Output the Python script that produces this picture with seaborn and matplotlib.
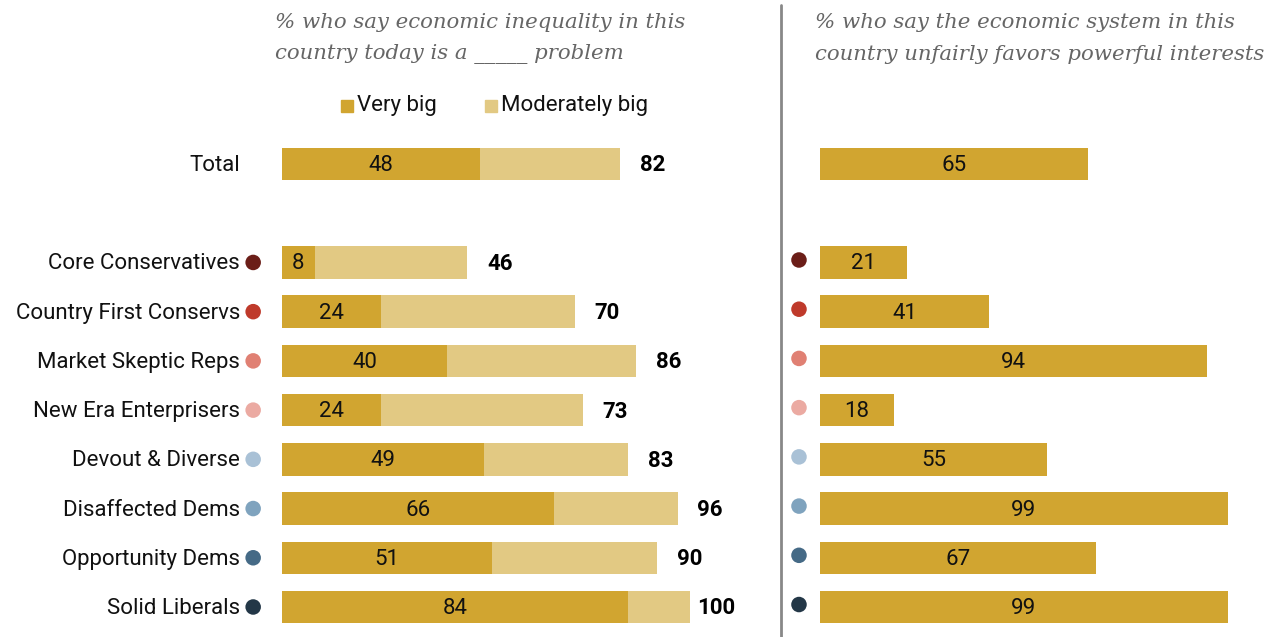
import numpy as np
import pandas as pd
import matplotlib
matplotlib.use("Agg")
import matplotlib.pyplot as plt
import seaborn as sns

groups = ["Total", "Core Conservatives", "Country First Conservs", "Market Skeptic Reps",
          "New Era Enterprisers", "Devout & Diverse", "Disaffected Dems",
          "Opportunity Dems", "Solid Liberals"]
very_big = [48, 8, 24, 40, 24, 49, 66, 51, 84]
moderately_big = [34, 37, 47, 46, 49, 35, 30, 40, 15]
net_big = [82, 46, 70, 86, 73, 83, 96, 90, 100]
unfair = [65, 21, 41, 94, 18, 55, 99, 67, 99]
dot_colors = [None, "#6b1e18", "#bf3a2b", "#e08073", "#ebaaa2",
              "#a9c1d6", "#7fa3be", "#456a86", "#233747"]
row_pos = [0, 2, 3, 4, 5, 6, 7, 8, 9]

DARK = "#d1a530"
LIGHT = "#e2c983"

df = pd.DataFrame({"group": groups, "pos": row_pos, "very_big": very_big,
                   "moderately_big": moderately_big, "net_big": net_big,
                   "unfair": unfair})
df["stack_end"] = df["very_big"] + df["moderately_big"]

sns.set_style("white")
plt.rcParams["font.family"] = ["Roboto", "DejaVu Sans"]

W, H = 1281, 637
fig = plt.figure(figsize=(W / 100, H / 100), dpi=100)

px_unit = 4.12
row_h = 49.2
top = 164 - 0.5 * row_h
bot = 607 + 0.5 * row_h

def make_ax(x0):
    return fig.add_axes([x0 / W, (H - bot) / H, 100 * px_unit / W, (bot - top) / H])

axl = make_ax(282)
axr = make_ax(820)

sns.barplot(data=df, x="stack_end", y="pos", orient="h", native_scale=True,
            color=LIGHT, width=0.66, linewidth=0, saturation=1, ax=axl)
sns.barplot(data=df, x="very_big", y="pos", orient="h", native_scale=True,
            color=DARK, width=0.66, linewidth=0, saturation=1, ax=axl)
sns.barplot(data=df, x="unfair", y="pos", orient="h", native_scale=True,
            color=DARK, width=0.66, linewidth=0, saturation=1, ax=axr)

for ax in (axl, axr):
    ax.set_xlim(0, 100)
    ax.set_ylim(9.5, -0.5)
    ax.axis("off")

fs = 16
for _, r in df.iterrows():
    y = r["pos"] + 0.03
    axl.text(-10.2, y, r["group"], ha="right", va="center", fontsize=fs, color="#111111")
    axl.text(r["very_big"] / 2, y, str(r["very_big"]), ha="center", va="center",
             fontsize=fs, color="#111111")
    axl.text(r["stack_end"] + 11.0, y, str(r["net_big"]), ha="right", va="center",
             fontsize=fs, fontweight="bold", color="#000000")
    axr.text(r["unfair"] / 2, y, str(r["unfair"]), ha="center", va="center",
             fontsize=fs, color="#111111")

dots = df.assign(color=dot_colors).dropna(subset=["color"])
axl.scatter(np.full(len(dots), -7.0), dots["pos"], s=125, c=list(dots["color"]),
            clip_on=False, linewidths=0)
axr.scatter(np.full(len(dots), -5.1), dots["pos"] - 0.05, s=125, c=list(dots["color"]),
            clip_on=False, linewidths=0)

# divider
fig.add_artist(plt.Line2D([781 / W, 781 / W], [0, 1 - 5 / H], color="#888888", lw=2))

# titles
tkw = dict(fontsize=15.3, style="italic", color="#666666", family="DejaVu Serif",
           va="center", ha="left")
fig.text(275 / W, 1 - 22 / H, "% who say economic inequality in this", **tkw)
fig.text(275 / W, 1 - 54 / H, "country today is a _____ problem", **tkw)
fig.text(815 / W, 1 - 22 / H, "% who say the economic system in this", **tkw)
fig.text(815 / W, 1 - 54 / H, "country unfairly favors powerful interests", **tkw)

# legend
for x0, col, lab in [(341, DARK, "Very big"), (485, LIGHT, "Moderately big")]:
    fig.add_artist(plt.Rectangle((x0 / W, 1 - 112 / H), 12 / W, 12 / H,
                                 color=col, transform=fig.transFigure))
    fig.text((x0 + 16) / W, 1 - 106 / H, lab, fontsize=fs, va="center", ha="left",
             color="#111111")

fig.savefig("out.png", dpi=100)
